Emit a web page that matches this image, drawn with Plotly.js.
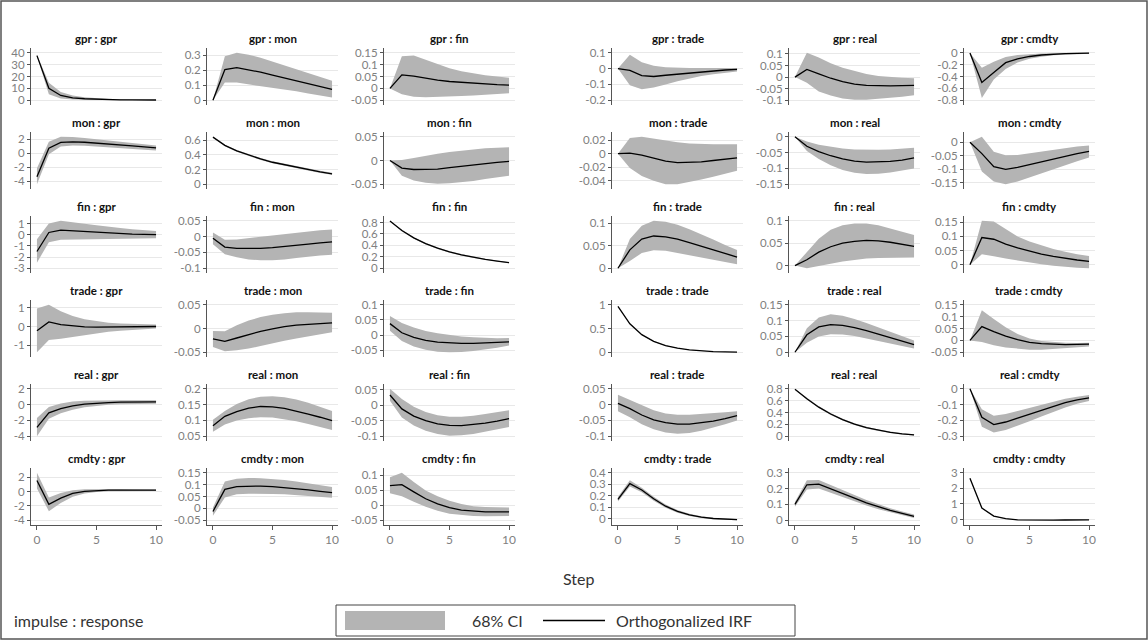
<!DOCTYPE html>
<html><head><meta charset="utf-8">
<script src="https://cdn.plot.ly/plotly-3.0.1.min.js"></script>
<style>html,body{margin:0;padding:0;background:#fff}#chart{width:1148px;height:640px}</style>
</head><body><div id="chart"></div>
<script>
const variables = ['gpr','mon','fin','trade','real','cmdty'];
const steps = [0,1,2,3,4,5,6,7,8,9,10];
const xTicks = [0,5,10];

// impulse gpr
const gpr_gpr_irf = [37.6,10,4,2,1.2,0.8,0.5,0.35,0.25,0.2,0.15];
const gpr_gpr_hi  = [38.2,14.8,7,4,2.5,1.6,1.1,0.8,0.6,0.5,0.4];
const gpr_gpr_lo  = [37.0,5,1.5,0.5,0.2,0.1,0,0,-0.05,-0.05,-0.05];
const gpr_gpr_ticks = [0,10,20,30,40];
const gpr_mon_irf = [0,0.205,0.218,0.205,0.188,0.168,0.148,0.128,0.11,0.09,0.073];
const gpr_mon_hi  = [0,0.295,0.318,0.305,0.285,0.26,0.235,0.21,0.185,0.158,0.13];
const gpr_mon_lo  = [0,0.118,0.118,0.108,0.097,0.085,0.072,0.06,0.045,0.03,0.018];
const gpr_mon_ticks = [0,0.1,0.2,0.3];
const gpr_fin_irf = [0,0.057,0.052,0.043,0.035,0.029,0.025,0.021,0.018,0.016,0.014];
const gpr_fin_hi  = [0,0.135,0.138,0.12,0.1,0.085,0.072,0.063,0.055,0.05,0.045];
const gpr_fin_lo  = [0,-0.025,-0.035,-0.037,-0.036,-0.034,-0.032,-0.03,-0.027,-0.024,-0.02];
const gpr_fin_ticks = [-0.05,0,0.05,0.1,0.15];
const gpr_trade_irf = [0,-0.012,-0.045,-0.05,-0.042,-0.035,-0.027,-0.02,-0.014,-0.009,-0.005];
const gpr_trade_hi  = [0,0.088,0.04,0.018,0.008,0.005,0.004,0.004,0.004,0.004,0.004];
const gpr_trade_lo  = [0,-0.105,-0.13,-0.12,-0.1,-0.08,-0.062,-0.047,-0.035,-0.025,-0.018];
const gpr_trade_ticks = [-0.2,-0.1,0,0.1];
const gpr_real_irf = [0,0.033,0.014,-0.005,-0.02,-0.03,-0.036,-0.038,-0.038,-0.037,-0.036];
const gpr_real_hi  = [0,0.105,0.085,0.06,0.04,0.025,0.013,0.005,0,-0.003,-0.005];
const gpr_real_lo  = [0,-0.025,-0.062,-0.08,-0.092,-0.098,-0.098,-0.095,-0.09,-0.085,-0.078];
const gpr_real_ticks = [-0.1,-0.05,0,0.05,0.1];
const gpr_cmdty_irf = [0,-0.5,-0.33,-0.165,-0.1,-0.06,-0.035,-0.02,-0.012,-0.006,-0.003];
const gpr_cmdty_hi  = [0,-0.25,-0.15,-0.07,-0.035,-0.018,-0.01,-0.004,0,0.002,0.003];
const gpr_cmdty_lo  = [0,-0.76,-0.45,-0.27,-0.16,-0.1,-0.065,-0.04,-0.028,-0.018,-0.012];
const gpr_cmdty_ticks = [-0.8,-0.6,-0.4,-0.2,0];

// impulse mon
const mon_gpr_irf = [-3.33,0.71,1.52,1.6,1.55,1.45,1.35,1.2,1.05,0.9,0.76];
const mon_gpr_hi  = [-2.14,1.62,2.33,2.3,2.15,1.95,1.75,1.55,1.4,1.25,1.1];
const mon_gpr_lo  = [-4.4,-0.14,0.95,1.1,1.05,0.95,0.85,0.75,0.62,0.5,0.38];
const mon_gpr_ticks = [-4,-2,0,2];
const mon_mon_irf = [0.643,0.53,0.455,0.395,0.345,0.3,0.265,0.23,0.2,0.17,0.143];
const mon_mon_hi  = [0.648,0.54,0.467,0.408,0.359,0.315,0.28,0.245,0.215,0.185,0.158];
const mon_mon_lo  = [0.638,0.52,0.443,0.382,0.331,0.285,0.25,0.215,0.185,0.155,0.128];
const mon_mon_ticks = [0,0.2,0.4,0.6];
const mon_fin_irf = [0,-0.016,-0.019,-0.019,-0.018,-0.015,-0.012,-0.009,-0.006,-0.004,-0.002];
const mon_fin_hi  = [0,0.001,0.005,0.01,0.014,0.018,0.021,0.024,0.026,0.027,0.028];
const mon_fin_lo  = [0,-0.032,-0.042,-0.047,-0.049,-0.048,-0.046,-0.043,-0.039,-0.035,-0.032];
const mon_fin_ticks = [-0.05,0,0.05];
const mon_trade_irf = [0,0.001,-0.002,-0.007,-0.011,-0.013,-0.013,-0.012,-0.01,-0.008,-0.006];
const mon_trade_hi  = [0,0.023,0.025,0.022,0.019,0.017,0.015,0.014,0.014,0.014,0.014];
const mon_trade_lo  = [0,-0.021,-0.033,-0.04,-0.045,-0.045,-0.042,-0.038,-0.034,-0.03,-0.025];
const mon_trade_ticks = [-0.04,-0.02,0,0.02];
const mon_real_irf = [0,-0.03,-0.047,-0.06,-0.07,-0.077,-0.08,-0.08,-0.078,-0.074,-0.067];
const mon_real_hi  = [0,-0.015,-0.025,-0.032,-0.037,-0.04,-0.041,-0.041,-0.04,-0.038,-0.035];
const mon_real_lo  = [0,-0.045,-0.07,-0.09,-0.105,-0.114,-0.118,-0.117,-0.113,-0.107,-0.1];
const mon_real_ticks = [-0.15,-0.1,-0.05,0];
const mon_cmdty_irf = [0,-0.042,-0.09,-0.1,-0.093,-0.083,-0.072,-0.061,-0.051,-0.042,-0.034];
const mon_cmdty_hi  = [0,0.02,-0.035,-0.048,-0.047,-0.041,-0.034,-0.027,-0.021,-0.016,-0.012];
const mon_cmdty_lo  = [0,-0.108,-0.145,-0.155,-0.145,-0.13,-0.115,-0.1,-0.085,-0.07,-0.056];
const mon_cmdty_ticks = [-0.15,-0.1,-0.05,0];

// impulse fin
const fin_gpr_irf = [-1.5,0.21,0.42,0.35,0.3,0.22,0.16,0.1,0.06,0.03,0.02];
const fin_gpr_hi  = [-0.4,1.02,1.26,1.15,1.0,0.85,0.7,0.6,0.5,0.42,0.35];
const fin_gpr_lo  = [-2.5,-0.66,-0.45,-0.4,-0.38,-0.36,-0.34,-0.33,-0.32,-0.31,-0.3];
const fin_gpr_ticks = [-3,-2,-1,0,1];
const fin_mon_irf = [-0.005,-0.033,-0.037,-0.038,-0.037,-0.035,-0.032,-0.028,-0.024,-0.02,-0.017];
const fin_mon_hi  = [0.013,-0.01,-0.009,-0.005,0,0.004,0.009,0.013,0.017,0.02,0.022];
const fin_mon_lo  = [-0.024,-0.056,-0.065,-0.072,-0.075,-0.075,-0.072,-0.068,-0.063,-0.06,-0.057];
const fin_mon_ticks = [-0.1,-0.05,0,0.05];
const fin_fin_irf = [0.825,0.66,0.53,0.43,0.35,0.285,0.235,0.19,0.155,0.125,0.097];
const fin_fin_hi  = [0.83,0.672,0.543,0.443,0.363,0.297,0.247,0.201,0.165,0.134,0.105];
const fin_fin_lo  = [0.82,0.648,0.517,0.417,0.337,0.273,0.223,0.179,0.145,0.116,0.089];
const fin_fin_ticks = [0,0.2,0.4,0.6,0.8];
const fin_trade_irf = [0,0.041,0.065,0.072,0.07,0.065,0.057,0.049,0.041,0.033,0.025];
const fin_trade_hi  = [0,0.065,0.095,0.106,0.104,0.097,0.087,0.076,0.064,0.052,0.041];
const fin_trade_lo  = [0,0.016,0.034,0.04,0.039,0.035,0.029,0.024,0.019,0.014,0.009];
const fin_trade_ticks = [0,0.05,0.1];
const fin_real_irf = [0,0.013,0.03,0.042,0.05,0.054,0.056,0.055,0.052,0.048,0.043];
const fin_real_hi  = [0,0.03,0.06,0.08,0.09,0.094,0.094,0.09,0.083,0.075,0.068];
const fin_real_lo  = [0,-0.006,-0.001,0.004,0.009,0.013,0.016,0.017,0.018,0.018,0.018];
const fin_real_ticks = [0,0.05,0.1];
const fin_cmdty_irf = [0,0.096,0.09,0.073,0.06,0.048,0.038,0.03,0.023,0.017,0.012];
const fin_cmdty_hi  = [0,0.155,0.152,0.125,0.1,0.082,0.068,0.056,0.046,0.037,0.031];
const fin_cmdty_lo  = [0,0.037,0.03,0.022,0.015,0.008,0.002,-0.003,-0.007,-0.01,-0.012];
const fin_cmdty_ticks = [0,0.05,0.1,0.15];

// impulse trade
const trade_gpr_irf = [-0.22,0.24,0.1,0.02,-0.02,-0.03,-0.03,-0.02,-0.01,-0.005,0];
const trade_gpr_hi  = [0.95,1.15,0.8,0.55,0.38,0.27,0.2,0.16,0.13,0.11,0.1];
const trade_gpr_lo  = [-1.36,-0.71,-0.65,-0.55,-0.45,-0.36,-0.28,-0.22,-0.17,-0.13,-0.1];
const trade_gpr_ticks = [-1,0,1];
const trade_mon_irf = [-0.022,-0.027,-0.02,-0.013,-0.006,-0.001,0.004,0.007,0.009,0.011,0.012];
const trade_mon_hi  = [-0.005,-0.006,0.007,0.017,0.024,0.029,0.032,0.034,0.034,0.034,0.033];
const trade_mon_lo  = [-0.039,-0.048,-0.046,-0.042,-0.037,-0.032,-0.026,-0.021,-0.016,-0.012,-0.008];
const trade_mon_ticks = [-0.05,0,0.05];
const trade_fin_irf = [0.038,0.008,-0.007,-0.017,-0.023,-0.026,-0.027,-0.027,-0.026,-0.024,-0.022];
const trade_fin_hi  = [0.063,0.04,0.025,0.014,0.006,0,-0.004,-0.007,-0.009,-0.01,-0.009];
const trade_fin_lo  = [0.015,-0.019,-0.037,-0.048,-0.054,-0.056,-0.055,-0.052,-0.047,-0.041,-0.034];
const trade_fin_ticks = [-0.05,0,0.05,0.1];
const trade_trade_irf = [0.965,0.6,0.37,0.23,0.14,0.085,0.05,0.028,0.015,0.007,0.003];
const trade_trade_hi  = [0.97,0.607,0.377,0.237,0.146,0.09,0.055,0.032,0.018,0.01,0.005];
const trade_trade_lo  = [0.96,0.593,0.363,0.223,0.134,0.08,0.045,0.024,0.012,0.004,0.001];
const trade_trade_ticks = [0,0.5,1];
const trade_real_irf = [0,0.055,0.08,0.087,0.085,0.078,0.068,0.057,0.046,0.035,0.024];
const trade_real_hi  = [0,0.076,0.11,0.12,0.115,0.105,0.092,0.078,0.064,0.05,0.037];
const trade_real_lo  = [0,0.03,0.05,0.057,0.056,0.051,0.044,0.036,0.028,0.02,0.012];
const trade_real_ticks = [0,0.05,0.1,0.15];
const trade_cmdty_irf = [0,0.058,0.037,0.018,0.003,-0.008,-0.014,-0.017,-0.018,-0.017,-0.016];
const trade_cmdty_hi  = [0,0.127,0.09,0.055,0.027,0.008,-0.003,-0.008,-0.01,-0.011,-0.01];
const trade_cmdty_lo  = [0,-0.007,-0.02,-0.03,-0.036,-0.039,-0.039,-0.037,-0.034,-0.03,-0.026];
const trade_cmdty_ticks = [-0.05,0,0.05,0.1,0.15];

// impulse real
const real_gpr_irf = [-2.87,-1.04,-0.5,-0.15,0.05,0.18,0.25,0.3,0.32,0.33,0.33];
const real_gpr_hi  = [-1.7,-0.3,0.15,0.4,0.5,0.55,0.56,0.56,0.56,0.55,0.55];
const real_gpr_lo  = [-4.0,-1.8,-1.1,-0.65,-0.35,-0.15,-0.02,0.05,0.09,0.11,0.12];
const real_gpr_ticks = [-4,-2,0,2];
const real_mon_irf = [0.083,0.113,0.128,0.139,0.144,0.143,0.138,0.13,0.12,0.11,0.099];
const real_mon_hi  = [0.102,0.13,0.152,0.167,0.175,0.176,0.173,0.166,0.156,0.144,0.13];
const real_mon_lo  = [0.064,0.087,0.1,0.107,0.11,0.109,0.104,0.097,0.089,0.08,0.07];
const real_mon_ticks = [0.05,0.1,0.15,0.2];
const real_fin_irf = [0.033,-0.012,-0.035,-0.05,-0.06,-0.065,-0.066,-0.063,-0.058,-0.051,-0.043];
const real_fin_hi  = [0.053,0.02,-0.005,-0.022,-0.032,-0.037,-0.037,-0.034,-0.028,-0.022,-0.016];
const real_fin_lo  = [0.014,-0.04,-0.065,-0.082,-0.093,-0.098,-0.097,-0.093,-0.086,-0.078,-0.07];
const real_fin_ticks = [-0.1,-0.05,0,0.05];
const real_trade_irf = [0.004,-0.013,-0.033,-0.048,-0.057,-0.062,-0.062,-0.058,-0.052,-0.044,-0.035];
const real_trade_hi  = [0.031,0.015,-0.003,-0.018,-0.028,-0.032,-0.032,-0.03,-0.027,-0.024,-0.021];
const real_trade_lo  = [-0.021,-0.04,-0.062,-0.078,-0.088,-0.092,-0.09,-0.083,-0.073,-0.062,-0.05];
const real_trade_ticks = [-0.1,-0.05,0,0.05];
const real_real_irf = [0.79,0.63,0.49,0.375,0.28,0.205,0.145,0.1,0.065,0.04,0.022];
const real_real_hi  = [0.795,0.642,0.504,0.39,0.295,0.22,0.159,0.113,0.077,0.051,0.032];
const real_real_lo  = [0.785,0.618,0.476,0.36,0.265,0.19,0.131,0.087,0.053,0.029,0.012];
const real_real_ticks = [0,0.2,0.4,0.6,0.8];
const real_cmdty_irf = [0,-0.18,-0.226,-0.21,-0.185,-0.16,-0.135,-0.11,-0.088,-0.07,-0.057];
const real_cmdty_hi  = [0,-0.13,-0.17,-0.16,-0.14,-0.12,-0.1,-0.08,-0.063,-0.05,-0.039];
const real_cmdty_lo  = [0,-0.24,-0.277,-0.26,-0.235,-0.205,-0.175,-0.145,-0.118,-0.095,-0.078];
const real_cmdty_ticks = [-0.3,-0.2,-0.1,0];

// impulse cmdty
const cmdty_gpr_irf = [1.55,-1.77,-0.9,-0.25,0.05,0.15,0.2,0.22,0.22,0.21,0.2];
const cmdty_gpr_hi  = [2.64,-0.82,-0.2,0.2,0.35,0.38,0.38,0.37,0.35,0.33,0.31];
const cmdty_gpr_lo  = [0.45,-2.73,-1.6,-0.7,-0.25,-0.05,0.05,0.08,0.09,0.09,0.09];
const cmdty_gpr_ticks = [-4,-2,0,2];
const cmdty_mon_irf = [-0.013,0.08,0.092,0.094,0.094,0.092,0.088,0.083,0.078,0.072,0.066];
const cmdty_mon_hi  = [0.004,0.113,0.125,0.128,0.127,0.124,0.119,0.113,0.105,0.097,0.09];
const cmdty_mon_lo  = [-0.031,0.046,0.06,0.062,0.062,0.061,0.059,0.056,0.053,0.049,0.045];
const cmdty_mon_ticks = [-0.05,0,0.05,0.1,0.15];
const cmdty_fin_irf = [0.066,0.069,0.045,0.022,0.005,-0.008,-0.016,-0.02,-0.022,-0.022,-0.022];
const cmdty_fin_hi  = [0.094,0.109,0.078,0.05,0.03,0.015,0.004,-0.003,-0.006,-0.007,-0.007];
const cmdty_fin_lo  = [0.04,0.03,0.012,-0.005,-0.018,-0.028,-0.033,-0.036,-0.037,-0.037,-0.036];
const cmdty_fin_ticks = [-0.05,0,0.05,0.1];
const cmdty_trade_irf = [0.17,0.305,0.25,0.175,0.11,0.065,0.035,0.015,0.003,-0.004,-0.007];
const cmdty_trade_hi  = [0.19,0.335,0.27,0.192,0.124,0.077,0.045,0.023,0.01,0.002,-0.002];
const cmdty_trade_lo  = [0.15,0.28,0.23,0.158,0.096,0.053,0.025,0.007,-0.004,-0.01,-0.012];
const cmdty_trade_ticks = [0,0.1,0.2,0.3,0.4];
const cmdty_real_irf = [0.1,0.224,0.228,0.2,0.17,0.14,0.11,0.085,0.062,0.043,0.024];
const cmdty_real_hi  = [0.115,0.252,0.255,0.225,0.193,0.16,0.128,0.1,0.076,0.055,0.036];
const cmdty_real_lo  = [0.085,0.195,0.2,0.175,0.148,0.12,0.093,0.07,0.05,0.032,0.015];
const cmdty_real_ticks = [0,0.1,0.2,0.3];
const cmdty_cmdty_irf = [2.65,0.73,0.22,0.05,-0.02,-0.04,-0.04,-0.04,-0.035,-0.03,-0.03];
const cmdty_cmdty_hi  = [2.68,0.76,0.24,0.065,-0.01,-0.03,-0.03,-0.03,-0.025,-0.022,-0.022];
const cmdty_cmdty_lo  = [2.62,0.7,0.2,0.035,-0.03,-0.05,-0.05,-0.05,-0.045,-0.04,-0.038];
const cmdty_cmdty_ticks = [0,1,2,3];

const ciLabel = '68% CI';
const irfLabel = 'Orthogonalized IRF';
const xTitle = 'Step';
const noteText = 'impulse : response';

// lookup table built from the arrays above
const SERIES = {};
for (const imp of variables) for (const resp of variables) {
  const key = imp + '_' + resp;
  SERIES[key] = {
    irf: eval(key + '_irf'), hi: eval(key + '_hi'), lo: eval(key + '_lo'), ticks: eval(key + '_ticks')
  };
}

const W = 1148, H = 640;
const colLeft = [31, 207, 384, 612, 789, 964], plotW = 131;
const rowTop = [48, 132, 216, 300, 384, 468], plotH = 57;
const FONT = 'Lato, "Open Sans", sans-serif';
const px = v => v / W, py = v => 1 - v / H;

const traces = [], annotations = [], shapes = [];
const layout = {
  width: W, height: H, margin: {l: 0, r: 0, t: 0, b: 0},
  paper_bgcolor: '#ffffff', plot_bgcolor: '#ffffff', showlegend: false,
  font: {family: FONT, color: '#333'}
};

let k = 0;
variables.forEach((imp, r) => {
  variables.forEach((resp, c) => {
    k++;
    const s = SERIES[imp + '_' + resp];
    const sfx = k === 1 ? '' : String(k);
    const xa = 'x' + sfx, ya = 'y' + sfx;
    traces.push({
      x: steps.concat(steps.slice().reverse()),
      y: s.hi.concat(s.lo.slice().reverse()),
      xaxis: xa, yaxis: ya, mode: 'lines', fill: 'toself',
      fillcolor: '#b4b4b4', line: {width: 0, color: '#b4b4b4'}, hoverinfo: 'skip', name: ciLabel
    });
    traces.push({
      x: steps, y: s.irf, xaxis: xa, yaxis: ya, mode: 'lines',
      line: {color: '#000000', width: 1.3}, name: irfLabel
    });
    const all = s.lo.concat(s.hi, s.ticks);
    const mn = Math.min(...all), mx = Math.max(...all);
    const pad = 0.1 * (mx - mn);
    const left = colLeft[c], top = rowTop[r];
    const bottomRow = r === variables.length - 1;
    layout['xaxis' + sfx] = {
      domain: [px(left), px(left + plotW)], anchor: ya, range: [-0.5, 10.5],
      showgrid: false, zeroline: false,
      showline: bottomRow, linecolor: '#555', linewidth: 1,
      ticks: bottomRow ? 'outside' : '', ticklen: 4, tickcolor: '#555',
      showticklabels: bottomRow, tickmode: 'array', tickvals: xTicks,
      tickfont: {size: 12, color: '#808080', family: FONT}
    };
    layout['yaxis' + sfx] = {
      domain: [py(top + plotH), py(top)], anchor: xa, range: [mn - pad, mx + pad],
      tickmode: 'array', tickvals: s.ticks, ticktext: s.ticks.map(String),
      showline: true, linecolor: '#555', linewidth: 1,
      ticks: 'outside', ticklen: 3, tickcolor: '#555',
      showgrid: true, gridcolor: '#e8e8e8', gridwidth: 1, zeroline: false,
      tickfont: {size: 11.5, color: '#808080', family: FONT}
    };
    annotations.push({
      text: imp + ' : ' + resp, xref: 'paper', yref: 'paper',
      x: px(left + plotW / 2), y: py(top), xanchor: 'center', yanchor: 'bottom',
      yshift: 1, showarrow: false, font: {size: 11.5, color: '#111', family: FONT, weight: 700}
    });
  });
});

// x-axis title
annotations.push({text: xTitle, xref: 'paper', yref: 'paper', x: px(578), y: py(578),
  xanchor: 'center', yanchor: 'middle', showarrow: false, font: {size: 16, color: '#333', family: FONT}});
// note
annotations.push({text: noteText, xref: 'paper', yref: 'paper', x: px(12), y: py(620.5),
  xanchor: 'left', yanchor: 'middle', showarrow: false, font: {size: 16, color: '#333', family: FONT}});
// legend
shapes.push({type: 'rect', xref: 'paper', yref: 'paper', x0: px(336), x1: px(795), y0: py(636), y1: py(605),
  line: {color: '#444', width: 1}, fillcolor: 'rgba(0,0,0,0)'});
shapes.push({type: 'rect', xref: 'paper', yref: 'paper', x0: px(345), x1: px(445), y0: py(630), y1: py(611),
  line: {width: 0}, fillcolor: '#b4b4b4'});
shapes.push({type: 'line', xref: 'paper', yref: 'paper', x0: px(543), x1: px(605), y0: py(620.5), y1: py(620.5),
  line: {color: '#000', width: 1.3}});
annotations.push({text: ciLabel, xref: 'paper', yref: 'paper', x: px(470), y: py(620.5),
  xanchor: 'left', yanchor: 'middle', showarrow: false, font: {size: 16, color: '#333', family: FONT}});
annotations.push({text: irfLabel, xref: 'paper', yref: 'paper', x: px(614), y: py(620.5),
  xanchor: 'left', yanchor: 'middle', showarrow: false, font: {size: 16, color: '#333', family: FONT}});
// outer frame
shapes.push({type: 'rect', xref: 'paper', yref: 'paper', x0: px(1), x1: px(1147), y0: py(639), y1: py(1),
  line: {color: '#555', width: 1.5}, fillcolor: 'rgba(0,0,0,0)'});

layout.annotations = annotations;
layout.shapes = shapes;

Plotly.newPlot('chart', traces, layout, {displayModeBar: false, staticPlot: true});
</script>
</body></html>
